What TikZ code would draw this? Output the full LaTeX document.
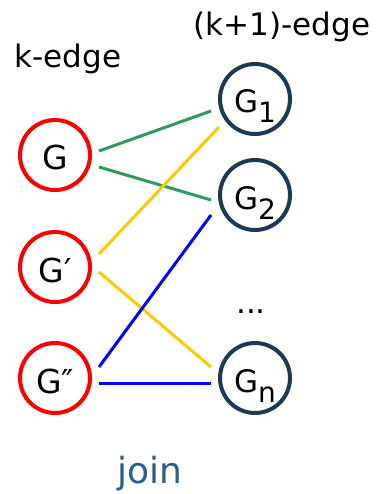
\documentclass[tikz,border=0pt]{standalone}
\usepackage{fontspec}
\setmainfont{DejaVu Sans}
\usepackage{tikz}
\usetikzlibrary{positioning}

\definecolor{navy}{RGB}{31,56,86}
\definecolor{joinblue}{RGB}{45,92,142}
\definecolor{edgegreen}{RGB}{46,154,94}
\definecolor{edgeyellow}{RGB}{255,200,0}

% subscript set low, as in the node labels
\newcommand{\lowsub}[1]{\raisebox{-10pt}[0pt][0pt]{\fontsize{28}{30}\selectfont #1}}

\begin{document}
\begin{tikzpicture}[
		x=1pt, y=-1pt,
		every node/.style={
				font=\fontsize{31}{36}\selectfont
			},
		kgraph/.style={
				circle, draw=red, line width=4pt,
				minimum size=70pt, inner sep=0pt,
				text height=30pt, text depth=0pt,
				font=\fontsize{33}{36}\selectfont
			},
		jgraph/.style={
				circle, draw=navy, line width=4pt,
				minimum size=70pt, inner sep=0pt,
				text height=28pt, text depth=0pt,
				font=\fontsize{31}{36}\selectfont
			},
		link/.style={line width=3pt}
	]
	\useasboundingbox (0,0) rectangle (378,494);

	% left column: graphs with k edges
	\node[kgraph] (g0) at (55,155) {G};
	\node[kgraph] (g1) at (55,267) {G′};
	\node[kgraph] (g2) at (55,378) {G″};

	% right column: graphs with k+1 edges
	\node[jgraph] (h1) at (255,99) {G\lowsub{1}};
	\node[jgraph] (h2) at (255,195) {G\lowsub{2}};
	\node[jgraph] (hn) at (255,378) {G\lowsub{n}};
	\node[anchor=base] (dots) at (251,313) {...};

	% headers
	\node[anchor=base] (klab) at (68,68) {k-edge};
	\node[anchor=base] (k1lab) at (282,36) {(k+1)-edge};
	\node[anchor=base, text=joinblue, font=\fontsize{36}{40}\selectfont] (join) at (150,483) {join};

	% join edges
	\draw[link, edgegreen] ([shift={(44,-4)}]g0.center) -- ([shift={(-44,12)}]h1.center);
	\draw[link, edgegreen] ([shift={(44,12)}]g0.center) -- ([shift={(-44,5)}]h2.center);
	\draw[link, edgeyellow] ([shift={(44,-13)}]g1.center) -- ([shift={(-36,28)}]h1.center);
	\draw[link, edgeyellow] ([shift={(44,5)}]g1.center) -- ([shift={(-44,-11)}]hn.center);
	\draw[link, blue] ([shift={(44,-11)}]g2.center) -- ([shift={(-44,20)}]h2.center);
	\draw[link, blue] ([shift={(44,5)}]g2.center) -- ([shift={(-44,5)}]hn.center);
\end{tikzpicture}
\end{document}
